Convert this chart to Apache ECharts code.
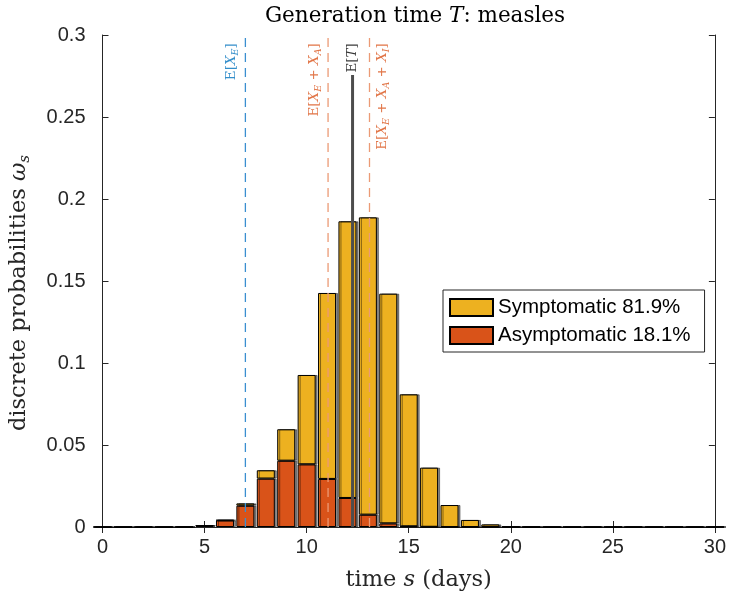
<!DOCTYPE html>
<html>
<head>
<meta charset="utf-8">
<script src="https://cdn.jsdelivr.net/npm/echarts@6/dist/echarts.min.js"></script>
<style>
  html, body { margin: 0; background: #fff; }
  #chart { width: 729px; height: 598px; }
</style>
</head>
<body>
<div id="chart"></div>
<script>
// generation time distribution, measles (one bar per day, 0..30)
const days = ['0', '1', '2', '3', '4', '5', '6', '7', '8', '9', '10', '11', '12', '13', '14', '15', '16', '17', '18', '19', '20', '21', '22', '23', '24', '25', '26', '27', '28', '29', '30'];
const asymptomatic = [0, 0, 0, 0, 0, 0.0008, 0.0040, 0.0130, 0.0295, 0.0404, 0.0382, 0.0293, 0.0177, 0.0075, 0.0022, 0.0004, 0.0001, 0, 0, 0, 0, 0, 0, 0, 0, 0, 0, 0, 0, 0, 0];
const symptomatic = [0, 0, 0, 0, 0.0002, 0.0002, 0.0003, 0.0014, 0.0051, 0.0192, 0.0545, 0.1134, 0.1687, 0.1813, 0.1401, 0.0805, 0.0361, 0.0134, 0.0043, 0.0016, 0.0004, 0.0001, 0, 0, 0, 0, 0, 0, 0, 0, 0];

// expected values drawn as vertical markers
const meanLabels = [
    '{rm|E[}{it|X}{sub|E}{rm|]}',
    '{rm|E[}{it|X}{sub|E}{rm| + }{it|X}{sub|A}{rm|]}',
    '{rm|E[}{it|T}{rm|]}',
    '{rm|E[}{it|X}{sub|E}{rm| + }{it|X}{sub|A}{rm| + }{it|X}{sub|I}{rm|]}'
];
const meanX = [7.0, 11.05, 12.25, 13.08];
const meanTopT = 0.2756;

const serif = 'DejaVu Serif';
const sans = 'Liberation Sans';
const axisColor = '#262626';

const labelRich = (color) => ({
    rm: { fontFamily: serif, fontSize: 13.5, color: color, lineHeight: 17 },
    it: { fontFamily: serif, fontSize: 13.5, fontStyle: 'italic', color: color, lineHeight: 17 },
    sub: { fontFamily: serif, fontSize: 9.5, fontStyle: 'italic', color: color, verticalAlign: 'bottom', lineHeight: 13 }
});

const chart = echarts.init(document.getElementById('chart'));

const dashLine = (x, color) => ({
    type: 'line',
    xAxisIndex: 1,
    data: [[x, 0], [x, 0.3]],
    symbol: 'none',
    silent: true,
    z: 5,
    color: color,
    lineStyle: { color: color, width: 1.3, type: [9, 6] }
});

const labelSide = ['left', 'left', 'center', 'right'];
const labelColor = ['#0072BD', '#D95319', '#000000', '#D95319'];

const labelData = meanX.map((x, i) => {
    const side = labelSide[i];
    return {
        value: [x, 0.295],
        label: {
            formatter: meanLabels[i],
            rich: labelRich(labelColor[i]),
            verticalAlign: side === 'left' ? 'bottom' : side === 'right' ? 'top' : 'middle',
            padding: side === 'left' ? [0, 0, 5, 0] : side === 'right' ? [5, 0, 0, 0] : 0
        }
    };
});

const barStyle = (color) => ({
    color: color,
    borderColor: '#000',
    borderWidth: 1,
    shadowColor: 'rgba(0,0,0,0.45)',
    shadowOffsetX: 2,
    shadowBlur: 0
});

const option = {
    animation: false,
    backgroundColor: '#fff',
    title: {
        text: '{rm|Generation time }{it|T}{rm|: measles}',
        left: 410,
        top: 0,
        textAlign: 'center',
        textStyle: {
            rich: {
                rm: { fontFamily: serif, fontSize: 21.5, fontWeight: 'normal', color: '#000' },
                it: { fontFamily: serif, fontSize: 21.5, fontWeight: 'normal', fontStyle: 'italic', color: '#000' }
            }
        }
    },
    legend: {
        data: ['Symptomatic 81.9%', 'Asymptomatic 18.1%'],
        orient: 'vertical',
        left: 443,
        top: 290,
        padding: [7, 14, 6, 6],
        itemGap: 7,
        itemWidth: 43,
        itemHeight: 17,
        icon: 'rect',
        borderColor: axisColor,
        borderWidth: 1,
        backgroundColor: '#fff',
        textStyle: { fontFamily: sans, fontSize: 20.5, color: '#000' }
    },
    grid: { left: 101, right: 14, top: 35, bottom: 71 },
    xAxis: [{
        type: 'category',
        data: days,
        boundaryGap: false,
        name: '{rm|time }{it|s}{rm| (days)}',
        nameLocation: 'middle',
        nameGap: 42,
        nameTextStyle: {
            padding: [0, 0, 0, 20],
            rich: {
                rm: { fontFamily: serif, fontSize: 22.5, color: axisColor },
                it: { fontFamily: serif, fontSize: 22.5, fontStyle: 'italic', color: axisColor }
            }
        },
        axisLine: { show: true, onZero: false, lineStyle: { color: axisColor, width: 1 } },
        axisTick: { show: true, inside: true, length: 6, interval: 4, lineStyle: { color: axisColor } },
        axisLabel: { fontFamily: sans, fontSize: 20, color: axisColor, margin: 10, interval: 4 },
        splitLine: { show: false }
    }, {
        type: 'value',
        position: 'top',
        min: 0,
        max: 30,
        interval: 5,
        axisLine: { show: true, lineStyle: { color: axisColor, width: 1 } },
        axisTick: { show: true, inside: true, length: 6, lineStyle: { color: axisColor } },
        axisLabel: { show: false },
        splitLine: { show: false }
    }],
    yAxis: [{
        type: 'value',
        min: 0,
        max: 0.3,
        interval: 0.05,
        name: '{rm|discrete probabilities }{it|ω}{sub|s}',
        nameLocation: 'middle',
        nameGap: 70,
        nameRotate: 90,
        nameTextStyle: {
            padding: [0, 24, 0, 0],
            rich: {
                rm: { fontFamily: serif, fontSize: 22.5, color: axisColor, lineHeight: 26 },
                it: { fontFamily: serif, fontSize: 22.5, fontStyle: 'italic', color: axisColor, lineHeight: 26 },
                sub: { fontFamily: serif, fontSize: 15, fontStyle: 'italic', color: axisColor, verticalAlign: 'bottom', lineHeight: 20 }
            }
        },
        axisLine: { show: true, lineStyle: { color: axisColor, width: 1 } },
        axisTick: { show: true, inside: true, length: 6, lineStyle: { color: axisColor } },
        axisLabel: { fontFamily: sans, fontSize: 20, color: axisColor, margin: 17 },
        splitLine: { show: false }
    }, {
        type: 'value',
        position: 'right',
        min: 0,
        max: 0.3,
        interval: 0.05,
        axisLine: { show: true, lineStyle: { color: axisColor, width: 1 } },
        axisTick: { show: true, inside: true, length: 6, lineStyle: { color: axisColor } },
        axisLabel: { show: false },
        splitLine: { show: false }
    }],
    series: [
        {
            name: 'Asymptomatic 18.1%',
            type: 'bar',
            stack: 'w',
            barWidth: 18,
            data: asymptomatic,
            itemStyle: barStyle('#D95319')
        },
        {
            name: 'Symptomatic 81.9%',
            type: 'bar',
            stack: 'w',
            barWidth: 18,
            data: symptomatic,
            itemStyle: barStyle('#EDB120')
        },
        dashLine(meanX[0], '#3a8fd0'),
        dashLine(meanX[1], '#eb9a75'),
        dashLine(meanX[3], '#eb9a75'),
        {
            type: 'line',
            xAxisIndex: 1,
            data: [[meanX[2], 0], [meanX[2], meanTopT]],
            symbol: 'none',
            silent: true,
            z: 6,
            lineStyle: { color: '#4d4d4d', width: 3 }
        },
        {
            type: 'scatter',
            xAxisIndex: 1,
            data: labelData,
            symbolSize: 0,
            silent: true,
            z: 7,
            label: {
                show: true,
                position: 'inside',
                rotate: 90,
                align: 'right'
            }
        }
    ]
};

chart.setOption(option);
</script>
</body>
</html>
